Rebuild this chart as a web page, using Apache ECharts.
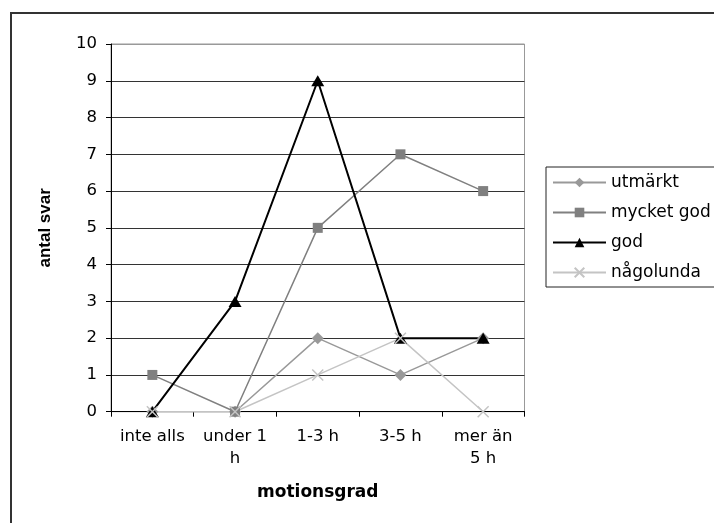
<!DOCTYPE html>
<html>
<head>
<meta charset="utf-8">
<script src="https://cdn.jsdelivr.net/npm/echarts@6/dist/echarts.min.js"></script>
<style>
  html, body { margin: 0; padding: 0; background: #fff; }
  #chart { width: 714px; height: 523px; }
</style>
</head>
<body>
<div id="chart"></div>
<script>
// Exercise level categories (x axis)
const categories = ['inte alls', 'under 1\nh', '1-3 h', '3-5 h', 'mer än\n5 h'];

// Number of answers per self-rated condition
const utmarkt    = [0, 0, 2, 1, 2];
const mycketGod  = [1, 0, 5, 7, 6];
const god        = [0, 3, 9, 2, 2];
const nagolunda  = [0, 0, 1, 2, 0];

// Y axis ticks
const yMin = 0, yMax = 10, yStep = 1;

const FONT = 'DejaVu Sans';
const crossPath = 'path://M0,0L10,10M10,0L0,10';

// split line colours, one per tick (top line lighter, like the frame)
const splitColors = [];
for (let v = yMin; v <= yMax; v += yStep) splitColors.push(v === yMax ? '#999' : '#333');

const chart = echarts.init(document.getElementById('chart'), null, { renderer: 'canvas' });

chart.setOption({
  animation: false,
  backgroundColor: '#fff',
  graphic: [
    // outer chart frame
    { type: 'rect', shape: { x: 11, y: 13, width: 740, height: 540 },
      style: { fill: 'none', stroke: '#333', lineWidth: 2 }, z: 0 },
    // legend box
    { type: 'rect', shape: { x: 546, y: 167, width: 200, height: 120 },
      style: { fill: '#fff', stroke: '#222', lineWidth: 1 }, z: 0 }
  ],
  grid: {
    left: 111, right: 189.5, top: 44, bottom: 111.3,
    show: true, borderColor: '#999', borderWidth: 1, backgroundColor: 'transparent'
  },
  legend: {
    orient: 'vertical',
    left: 552, top: 172.5,
    padding: 0,
    itemWidth: 53, itemHeight: 12, itemGap: 10,
    textStyle: { fontFamily: FONT, fontSize: 17, color: '#000', lineHeight: 20 },
    data: ['utmärkt', 'mycket god', 'god', 'någolunda'],
    z: 5
  },
  xAxis: {
    type: 'category',
    data: categories,
    boundaryGap: true,
    axisLine: { lineStyle: { color: '#000', width: 1 } },
    axisTick: { show: true, length: 5, lineStyle: { color: '#000' } },
    axisLabel: { fontFamily: FONT, fontSize: 16.5, color: '#000', lineHeight: 22, margin: 14, interval: 0 },
    name: 'motionsgrad',
    nameLocation: 'middle',
    nameGap: 81,
    nameTextStyle: { fontFamily: FONT, fontWeight: 'bold', fontSize: 17, color: '#000', verticalAlign: 'middle' }
  },
  yAxis: {
    type: 'value',
    min: yMin, max: yMax, interval: yStep,
    axisLine: { show: true, lineStyle: { color: '#000', width: 1 } },
    axisTick: { show: true, length: 5, lineStyle: { color: '#000' } },
    axisLabel: { fontFamily: FONT, fontSize: 16.5, color: '#000', margin: 14 },
    splitLine: { show: true, lineStyle: { color: splitColors, width: 1 } },
    name: 'antal svar',
    nameLocation: 'middle',
    nameGap: 66,
    nameRotate: 90,
    nameTextStyle: { fontFamily: 'Liberation Sans', fontWeight: 'bold', fontSize: 17, color: '#000', verticalAlign: 'middle' }
  },
  series: [
    {
      name: 'utmärkt', type: 'line', data: utmarkt,
      symbol: 'diamond', symbolSize: 12, showAllSymbol: true,
      lineStyle: { color: '#999', width: 1.5 },
      itemStyle: { color: '#999', borderWidth: 0 }
    },
    {
      name: 'mycket god', type: 'line', data: mycketGod,
      symbol: 'rect', symbolSize: 10, showAllSymbol: true,
      lineStyle: { color: '#808080', width: 1.5 },
      itemStyle: { color: '#808080', borderWidth: 0 }
    },
    {
      name: 'god', type: 'line', data: god,
      symbol: 'triangle', symbolSize: [13, 11], showAllSymbol: true,
      lineStyle: { color: '#000', width: 2 },
      itemStyle: { color: '#000', borderWidth: 0 }
    },
    {
      name: 'någolunda', type: 'line', data: nagolunda,
      symbol: crossPath, symbolSize: 11, showAllSymbol: true,
      lineStyle: { color: '#c4c4c4', width: 1.5 },
      itemStyle: { color: 'rgba(0,0,0,0)', borderColor: '#c4c4c4', borderWidth: 1.5 }
    }
  ]
});
</script>
</body>
</html>
